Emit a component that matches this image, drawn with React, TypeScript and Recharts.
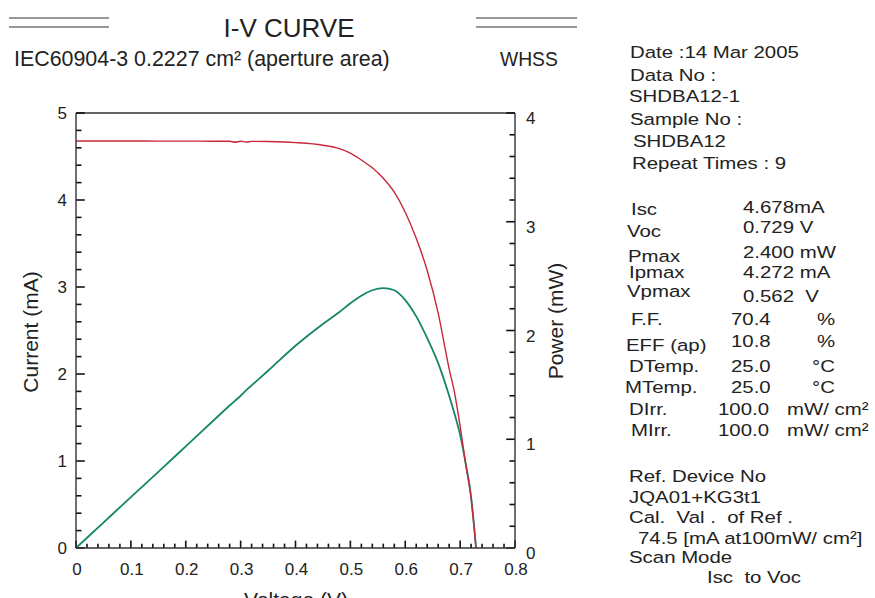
import React from 'react';
import { LineChart, Line, XAxis, YAxis, ReferenceLine } from 'recharts';

// I-V scan
const voltage = [0, 0.05, 0.1, 0.15, 0.2, 0.25, 0.28, 0.29, 0.3, 0.31, 0.32, 0.35, 0.4, 0.45, 0.48, 0.5, 0.52, 0.54, 0.56, 0.58, 0.6, 0.62, 0.64, 0.66, 0.68, 0.69, 0.7, 0.71, 0.72, 0.729];
const current = [4.678, 4.678, 4.678, 4.677, 4.677, 4.676, 4.676, 4.664, 4.676, 4.666, 4.674, 4.672, 4.66, 4.63, 4.59, 4.54, 4.46, 4.37, 4.25, 4.09, 3.86, 3.56, 3.19, 2.7, 2.06, 1.78, 1.4, 0.97, 0.57, 0];
const power = [0, 0.234, 0.468, 0.7, 0.935, 1.17, 1.31, 1.355, 1.4, 1.45, 1.495, 1.63, 1.86, 2.06, 2.17, 2.25, 2.32, 2.37, 2.39, 2.37, 2.28, 2.13, 1.93, 1.7, 1.4, 1.23, 1.04, 0.78, 0.47, 0];

const xMajorTicks = [0, 0.1, 0.2, 0.3, 0.4, 0.5, 0.6, 0.7, 0.8];
const xTickLabels = ['0', '0.1', '0.2', '0.3', '0.4', '0.5', '0.6', '0.7', '0.8'];
const currentMajorTicks = [0, 1, 2, 3, 4, 5];
const powerMajorTicks = [0, 1, 2, 3, 4];

const infoTop = ['Date :14 Mar 2005', 'Data No :', 'SHDBA12-1', 'Sample No :', 'SHDBA12', 'Repeat Times : 9'];
const paramNames = ['Isc', 'Voc', 'Pmax', 'Ipmax', 'Vpmax', 'F.F.', 'EFF (ap)', 'DTemp.', 'MTemp.', 'DIrr.', 'MIrr.'];
const paramValues = ['4.678mA', '0.729 V', '2.400 mW', '4.272 mA', '0.562  V', '70.4', '10.8', '25.0', '25.0', '100.0', '100.0'];
const paramUnits = ['', '', '', '', '', '%', '%', '°C', '°C', 'mW/ cm²', 'mW/ cm²'];
const infoBottom = ['Ref. Device No', 'JQA01+KG3t1', 'Cal.  Val .  of Ref .', '74.5 [mA at100mW/ cm²]', 'Scan Mode', 'Isc  to Voc'];

const data = voltage.map((v, k) => ({ v, current: current[k], power: power[k] }));

// minor tick positions (every 0.02 V, 0.2 mA, 0.2 mW)
const xMinorTicks = Array.from({ length: 41 }, (_, k) => +(k * 0.02).toFixed(2));
const currentMinorTicks = Array.from({ length: 26 }, (_, k) => +(k * 0.2).toFixed(1));
const powerMinorTicks = Array.from({ length: 21 }, (_, k) => +(k * 0.2).toFixed(1));

const FONT = '"Liberation Sans", Arial, sans-serif';
const AXIS = '#333';
const INK = '#222';
const TICK = '#111';

const isMajor = (val: number, step: number) => Math.abs(val / step - Math.round(val / step)) < 1e-6;

// inward tick lengths in data units (V for the side axes, mA for the bottom one)
const X_TICK_MAJOR = 0.085;
const X_TICK_MINOR = 0.05;
const Y_TICK_MAJOR = 0.016;
const Y_TICK_MINOR = 0.01;

const XLabel = (p: any) => (
  <text x={p.x + 1} y={p.y + 27} textAnchor="middle" fontSize={17} fontFamily={FONT} fill={INK}>
    {xTickLabels[p.index]}
  </text>
);
const LeftLabel = (p: any) => (
  <text x={p.x - 9} y={p.y + 6} textAnchor="end" fontSize={17} fontFamily={FONT} fill={INK}>
    {p.payload.value}
  </text>
);
const RightLabel = (p: any) => (
  <text x={p.x + 11} y={p.y + 11} textAnchor="start" fontSize={17} fontFamily={FONT} fill={INK}>
    {p.payload.value}
  </text>
);

// info panel text, widened like the scan
const Txt = ({ x, y, children, size = 17, sx = 1.2 }: any) => (
  <text
    transform={`translate(${x},${y}) scale(${sx},1)`}
    fontSize={size}
    fontFamily={FONT}
    fill={INK}
    style={{ whiteSpace: 'pre' }}
  >
    {children}
  </text>
);

const topX = [630, 630, 629, 630, 633, 632];
const topY = [58, 81, 102, 125, 147, 169];
const nameX = [631, 627, 628, 629, 627, 631, 626, 629, 625, 629, 631];
const nameY = [215, 237, 262, 278, 297, 325, 351, 372, 393, 415, 436];
const valueX = [743, 743, 743, 743, 743, 731, 731, 731, 731, 718, 718];
const valueY = [213, 233, 258, 278, 302, 325, 347, 372, 393, 415, 436];
const unitX = [0, 0, 0, 0, 0, 817, 817, 812, 812, 787, 787];
const bottomX = [629, 629, 629, 638, 629, 707];
const bottomY = [482, 503, 523, 544, 563, 583];

export default function App() {
  return (
    <div style={{ position: 'absolute', left: 0, top: 0, width: 875, height: 598, background: '#fff' }}>
      <div style={{ position: 'absolute', left: 0, top: 0 }}>
        <LineChart width={875} height={598} data={data} margin={{ top: 113, right: 320, bottom: 20, left: 36 }}>
          <XAxis
            xAxisId="v"
            dataKey="v"
            type="number"
            domain={[0, 0.8]}
            ticks={xMajorTicks}
            interval={0}
            tickSize={0}
            tickMargin={0}
            tickLine={false}
            tick={XLabel}
            height={30}
            axisLine={{ stroke: AXIS, strokeWidth: 1.4 }}
            allowDataOverflow
          />
          <YAxis
            yAxisId="i"
            type="number"
            domain={[0, 5]}
            ticks={currentMajorTicks}
            interval={0}
            tickSize={0}
            tickMargin={0}
            tickLine={false}
            tick={LeftLabel}
            width={40}
            axisLine={{ stroke: AXIS, strokeWidth: 1.4 }}
            allowDataOverflow
          />
          <YAxis
            yAxisId="p"
            orientation="right"
            type="number"
            domain={[0, 4]}
            ticks={powerMajorTicks}
            interval={0}
            tickSize={0}
            tickMargin={0}
            tickLine={false}
            tick={RightLabel}
            width={40}
            axisLine={{ stroke: AXIS, strokeWidth: 1.4 }}
            allowDataOverflow
          />

          {/* frame top */}
          <ReferenceLine xAxisId="v" yAxisId="i" y={5} stroke={AXIS} strokeWidth={1.4} />

          {/* inward ticks */}
          {xMinorTicks.map((t) => (
            <ReferenceLine
              key={`xt-${t}`}
              xAxisId="v"
              yAxisId="i"
              ifOverflow="visible"
              segment={[{ x: t, y: 0 }, { x: t, y: isMajor(t, 0.1) ? X_TICK_MAJOR : X_TICK_MINOR }]}
              stroke={TICK}
              strokeWidth={1.6}
            />
          ))}
          {currentMinorTicks.map((t) => (
            <ReferenceLine
              key={`it-${t}`}
              xAxisId="v"
              yAxisId="i"
              ifOverflow="visible"
              segment={[{ x: 0, y: t }, { x: isMajor(t, 1) ? Y_TICK_MAJOR : Y_TICK_MINOR, y: t }]}
              stroke={TICK}
              strokeWidth={1.6}
            />
          ))}
          {powerMinorTicks.map((t) => (
            <ReferenceLine
              key={`pt-${t}`}
              xAxisId="v"
              yAxisId="p"
              ifOverflow="visible"
              segment={[{ x: 0.8, y: t }, { x: 0.8 - (isMajor(t, 1) ? Y_TICK_MAJOR : Y_TICK_MINOR), y: t }]}
              stroke={TICK}
              strokeWidth={1.6}
            />
          ))}

          <Line
            xAxisId="v"
            yAxisId="p"
            dataKey="power"
            type="monotone"
            stroke="#14866a"
            strokeWidth={1.8}
            dot={false}
            isAnimationActive={false}
          />
          <Line
            xAxisId="v"
            yAxisId="i"
            dataKey="current"
            type="monotone"
            stroke="#c8283c"
            strokeWidth={1.4}
            dot={false}
            isAnimationActive={false}
          />
        </LineChart>
      </div>
      <svg width={875} height={598} style={{ position: 'absolute', left: 0, top: 0, pointerEvents: 'none' }}>
        {/* header */}
        <line x1={9} x2={109} y1={18} y2={18} stroke={AXIS} strokeWidth={1.2} />
        <line x1={9} x2={109} y1={27} y2={27} stroke={AXIS} strokeWidth={1.2} />
        <line x1={476} x2={577} y1={18} y2={18} stroke={AXIS} strokeWidth={1.2} />
        <line x1={476} x2={577} y1={27} y2={27} stroke={AXIS} strokeWidth={1.2} />
        <text x={289} y={37} textAnchor="middle" fontSize={26} fontFamily={FONT} fill={INK}>I-V CURVE</text>
        <text x={14} y={66} fontSize={21.4} fontFamily={FONT} fill={INK}>IEC60904-3 0.2227 cm² (aperture area)</text>
        <text x={500} y={66} fontSize={19.3} fontFamily={FONT} fill={INK}>WHSS</text>

        {/* axis titles */}
        <text transform="translate(38,332) rotate(-90)" textAnchor="middle" fontSize={21} fontFamily={FONT} fill={INK}>
          Current (mA)
        </text>
        <text transform="translate(563,321) rotate(-90)" textAnchor="middle" fontSize={21} fontFamily={FONT} fill={INK}>
          Power (mW)
        </text>
        <text x={296} y={607} textAnchor="middle" fontSize={21} fontFamily={FONT} fill={INK}>Voltage (V)</text>

        {/* info panel */}
        {infoTop.map((s, k) => (
          <Txt key={`t${k}`} x={topX[k]} y={topY[k]}>{s}</Txt>
        ))}
        {paramNames.map((s, k) => (
          <Txt key={`n${k}`} x={nameX[k]} y={nameY[k]}>{s}</Txt>
        ))}
        {paramValues.map((s, k) => (
          <Txt key={`v${k}`} x={valueX[k]} y={valueY[k]}>{s}</Txt>
        ))}
        {paramUnits.map((s, k) =>
          s ? <Txt key={`u${k}`} x={unitX[k]} y={valueY[k]}>{s}</Txt> : null
        )}
        {infoBottom.map((s, k) => (
          <Txt key={`b${k}`} x={bottomX[k]} y={bottomY[k]}>{s}</Txt>
        ))}
      </svg>
    </div>
  );
}
